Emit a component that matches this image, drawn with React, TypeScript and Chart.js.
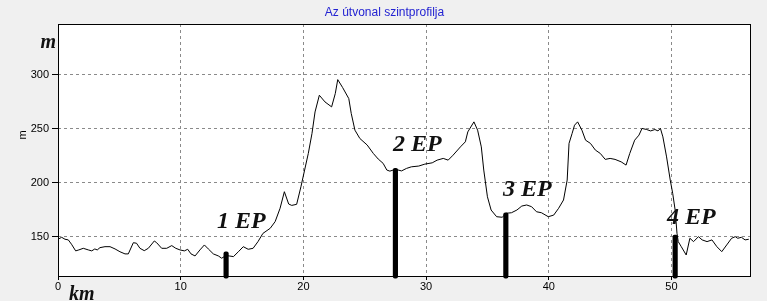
import React, { useEffect, useRef } from "react";
import { Chart, registerables } from "chart.js";

Chart.register(...registerables);

// ---- Data ----
const distanceKm = [
  0, 0.3, 0.57, 0.84, 1.1, 1.44, 1.7, 2.06, 2.47, 2.75, 3.0, 3.2, 3.42, 3.83, 4.24, 4.65, 5.05, 5.46, 5.73,
  6.14, 6.4, 6.68, 7.03, 7.36, 7.85, 8.04, 8.45, 8.86, 9.27, 9.6, 9.94, 10.3, 10.57, 10.84, 11.17, 11.57,
  11.93, 12.25, 12.66, 13.07, 13.34, 13.7, 14.0, 14.3, 14.7, 15.1, 15.5, 15.9, 16.3, 16.7, 17.3, 17.7, 18.1,
  18.45, 18.8, 19.05, 19.45, 19.8, 20.1, 20.4, 20.7, 20.95, 21.3, 21.76, 22.3, 22.6, 22.8, 23.2, 23.7, 23.9,
  24.2, 24.6, 25.2, 25.7, 26.1, 26.5, 26.8, 27.05, 27.5, 28.0, 28.4, 28.8, 29.4, 29.9, 30.5, 30.9, 31.4,
  31.8, 32.2, 32.8, 33.2, 33.4, 33.9, 34.2, 34.5, 34.7, 35.0, 35.3, 35.75, 36.2, 36.55, 36.96, 37.4, 37.8,
  38.2, 38.6, 39.0, 39.4, 39.96, 40.4, 40.8, 41.2, 41.5, 41.65, 41.9, 42.1, 42.35, 42.7, 43.0, 43.4, 43.8,
  44.2, 44.6, 45.0, 45.4, 45.9, 46.3, 46.6, 47.0, 47.35, 47.6, 47.98, 48.3, 48.65, 48.9, 49.1, 49.3, 49.6,
  49.9, 50.1, 50.3, 50.45, 50.55, 50.8, 51.2, 51.5, 51.8, 52.2, 52.5, 52.9, 53.3, 53.7, 54.1, 54.5, 54.9,
  55.2, 55.4, 55.7, 56.0, 56.3,
];
const elevationM = [
  147.6, 149.4, 147.6, 147, 143, 136.8, 137.7, 139.2, 137.7, 136.8, 138.6, 137.7, 139.8, 140.7, 140.7, 138.6,
  136, 134, 134, 144.4, 143.9, 139.2, 137, 139.2, 146, 144.4, 139.2, 139.2, 141.7, 139.2, 137.7, 136.8, 138.3,
  134, 132.1, 137.7, 142.3, 138.6, 134, 132.1, 130, 132.5, 132, 131.5, 136, 140.7, 138.3, 139.2, 145.4, 153,
  157.8, 164, 176.3, 191.7, 180.3, 179, 180, 196.3, 211.8, 227.2, 245.7, 265.7, 281.2, 275, 270.4, 282.8,
  295.7, 288.3, 278.1, 264.3, 248.8, 241.1, 235, 227.2, 222, 218, 211.8, 210.8, 212.5, 211, 213.3, 214.8,
  215.5, 217.3, 218.5, 221, 222.6, 221, 225.6, 233.3, 238, 247.2, 256.5, 248.8, 233.3, 211.8, 187, 174.7,
  168.5, 168, 171.7, 172.2, 174.7, 178.4, 179.4, 177.8, 173.1, 172.2, 168.5, 170, 176.3, 184, 202.5, 236.5,
  245.7, 253.4, 256.5, 248.8, 239.5, 236.5, 230.3, 227.2, 221.7, 222.6, 221.7, 219.4, 216.4, 227.2, 239.5,
  244.2, 250.4, 249.4, 248.1, 249.4, 248.1, 250.4, 242.6, 224, 202.5, 190.2, 174.7, 153.1, 145.4, 140.7, 133,
  148.5, 145.4, 150, 147, 145.4, 147, 140.7, 136.1, 142.3, 148.5, 150, 148.5, 149.4, 147, 147.6,
];

const checkpointNames = ["1 EP", "2 EP", "3 EP", "4 EP"];
const checkpointKm = [13.7, 27.5, 36.5, 50.3];
const checkpointElevM = [136, 213.3, 172, 151.5];
// label anchors (left edge / baseline) in data units
const labelKm = [12.96, 27.3, 36.27, 49.63];
const labelElevM = [157.8, 229.6, 187.7, 161.8];

const xTicks = [0, 10, 20, 30, 40, 50];
const yTicks = [150, 200, 250, 300];

const chartTitle = "Az útvonal szintprofilja";
const yUnit = "m";
const xUnit = "km";
const yAxisTitle = "m";

const X_MIN = 0;
const X_MAX = 56.4;
const Y_MIN = 113.5;
const Y_MAX = 347.3;

const decorPlugin = {
  id: "decor",
  beforeDraw(chart: any) {
    const { ctx, chartArea, width, height } = chart;
    ctx.save();
    ctx.fillStyle = "#f0f0f0";
    ctx.fillRect(0, 0, width, height);
    ctx.fillStyle = "#ffffff";
    ctx.fillRect(chartArea.left, chartArea.top, chartArea.right - chartArea.left, chartArea.bottom - chartArea.top);
    ctx.restore();
  },
  beforeDatasetsDraw(chart: any) {
    const { ctx, chartArea } = chart;
    ctx.save();
    ctx.strokeStyle = "#000";
    ctx.lineWidth = 1;
    ctx.setLineDash([]);
    ctx.strokeRect(chartArea.left + 0.5, chartArea.top + 0.5, chartArea.right - chartArea.left, chartArea.bottom - chartArea.top);
    ctx.restore();
  },
  afterDraw(chart: any) {
    const { ctx, width } = chart;
    const xs = chart.scales.x;
    const ys = chart.scales.y;
    ctx.save();
    // title
    ctx.fillStyle = "#2323d2";
    ctx.font = "12px 'Liberation Sans'";
    ctx.textAlign = "center";
    ctx.textBaseline = "middle";
    ctx.fillText(chartTitle, width / 2 + 1, 12.5);

    // unit labels
    ctx.fillStyle = "#111";
    ctx.font = "bold italic 20px 'Liberation Serif'";
    ctx.textAlign = "right";
    ctx.textBaseline = "alphabetic";
    ctx.fillText(yUnit, 56, 48);
    ctx.textAlign = "left";
    ctx.fillText(xUnit, 69, 300);

    // rotated axis title
    ctx.save();
    ctx.translate(23, 135);
    ctx.rotate(-Math.PI / 2);
    ctx.font = "11px 'Liberation Sans'";
    ctx.fillStyle = "#000";
    ctx.textAlign = "center";
    ctx.textBaseline = "middle";
    ctx.fillText(yAxisTitle, 0, 0);
    ctx.restore();

    // checkpoint labels
    ctx.font = "bold italic 24px 'Liberation Serif'";
    ctx.fillStyle = "#111";
    ctx.textAlign = "left";
    ctx.textBaseline = "alphabetic";
    checkpointNames.forEach((name, i) => {
      ctx.fillText(name, xs.getPixelForValue(labelKm[i]), ys.getPixelForValue(labelElevM[i]));
    });
    ctx.restore();
  },
};

export default function App() {
  const ref = useRef<HTMLCanvasElement | null>(null);

  useEffect(() => {
    if (!ref.current) return;
    Chart.defaults.font.family = "'Liberation Sans'";
    const chart = new Chart(ref.current, {
      data: {
        datasets: [
          {
            type: "bar",
            data: checkpointKm.map((x, i) => ({ x, y: checkpointElevM[i] })),
            backgroundColor: "#000",
            barThickness: 4.5,
            base: Y_MIN - 2,
            borderRadius: 2,
            borderSkipped: false,
            clip: false,
            order: 0,
          } as any,
          {
            type: "line",
            data: distanceKm.map((x, i) => ({ x, y: elevationM[i] })),
            borderColor: "#000",
            borderWidth: 1,
            pointRadius: 0,
            tension: 0,
            fill: false,
            order: 1,
          } as any,
        ],
      },
      options: {
        animation: false,
        responsive: false,
        maintainAspectRatio: false,
        layout: { padding: { left: 0, top: 24, right: 17, bottom: 0 } },
        plugins: { legend: { display: false }, tooltip: { enabled: false }, title: { display: false } },
        scales: {
          x: {
            type: "linear",
            min: X_MIN,
            max: X_MAX,
            offset: false,
            afterBuildTicks: (s: any) => {
              s.ticks = xTicks.map((v) => ({ value: v }));
            },
            afterFit: (s: any) => {
              s.height = 25;
            },
            ticks: { color: "#000", font: { size: 11 }, padding: 0, maxRotation: 0, autoSkip: false },
            grid: { color: "#8a8a8a", tickColor: "#000", tickLength: 4, lineWidth: 1, offset: false },
            border: { display: false, dash: [3, 3] },
          },
          y: {
            type: "linear",
            min: Y_MIN,
            max: Y_MAX,
            afterBuildTicks: (s: any) => {
              s.ticks = yTicks.map((v) => ({ value: v }));
            },
            afterFit: (s: any) => {
              s.width = 58;
            },
            ticks: { color: "#000", font: { size: 11 }, padding: 3 },
            grid: { color: "#8a8a8a", tickColor: "#000", tickLength: 6, lineWidth: 1 },
            border: { display: false, dash: [3, 3] },
          },
        },
      } as any,
      plugins: [decorPlugin],
    } as any);
    return () => chart.destroy();
  }, []);

  return (
    <div style={{ position: "absolute", left: 0, top: 0, width: 767, height: 301, background: "#f0f0f0" }}>
      <canvas ref={ref} width={767} height={301} style={{ display: "block" }} />
    </div>
  );
}
